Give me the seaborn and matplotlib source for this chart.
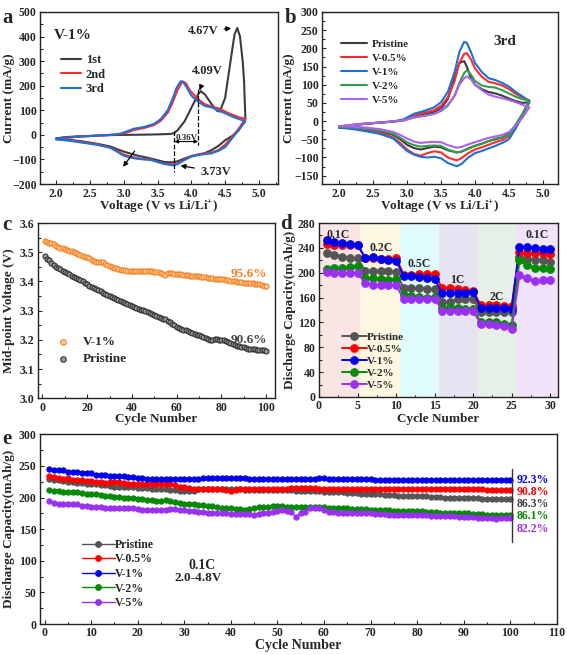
import numpy as np
import pandas as pd
import matplotlib
matplotlib.use("Agg")
import matplotlib.pyplot as plt
from matplotlib.ticker import AutoMinorLocator
import seaborn as sns

# ---------------- data ----------------
# (a) CV of V-1%, cycles 1-3: anodic + cathodic sweep
A1_VOLT = [2.0, 2.1, 2.3, 2.5, 2.8, 3.0, 3.3, 3.5, 3.7, 3.75, 3.8, 3.9, 4.0, 4.1, 4.14, 4.2, 4.3, 4.38,
           4.42, 4.5, 4.58, 4.64, 4.68, 4.72, 4.76, 4.78, 4.8,
           4.75, 4.7, 4.6, 4.5, 4.4, 4.3, 4.2, 4.1, 4.0, 3.9, 3.8, 3.73, 3.6, 3.5, 3.4, 3.3, 3.2, 3.1,
           3.0, 2.9, 2.8, 2.6, 2.4, 2.2, 2.0]
A1_CURR = [-15, -10, -6, -4, -1, 0, 1, 2, 4, 8, 20, 55, 110, 165, 178, 165, 125, 98,
           95, 150, 300, 410, 435, 400, 300, 220, 65,
           40, 18, -5, -22, -45, -62, -74, -80, -86, -96, -107, -112, -110, -103, -96, -90, -84, -76,
           -68, -58, -47, -36, -27, -20, -15]
A2_VOLT = [2.0, 2.3, 2.6, 2.8, 2.95, 3.05, 3.15, 3.3, 3.45, 3.55, 3.65, 3.72, 3.8, 3.87, 3.92, 3.98,
           4.05, 4.1, 4.2, 4.3, 4.4, 4.5, 4.6, 4.7, 4.8,
           4.75, 4.7, 4.6, 4.5, 4.4, 4.3, 4.2, 4.1, 4.0, 3.9, 3.8, 3.73, 3.6, 3.5, 3.4, 3.3, 3.2, 3.1,
           3.0, 2.9, 2.8, 2.6, 2.4, 2.2, 2.0]
A2_CURR = [-15, -8, -3, 0, 3, 10, 20, 28, 40, 58, 90, 130, 185, 218, 210, 180,
           160, 145, 125, 115, 108, 95, 82, 72, 65,
           45, 25, -10, -40, -62, -72, -75, -80, -87, -100, -115, -120, -117, -110, -100, -98, -95, -88,
           -80, -65, -52, -38, -30, -22, -18]
A3_VOLT = [2.0, 2.3, 2.6, 2.8, 2.95, 3.05, 3.15, 3.3, 3.45, 3.55, 3.65, 3.72, 3.78, 3.84, 3.88, 3.95,
           4.0, 4.1, 4.2, 4.3, 4.4, 4.5, 4.6, 4.7, 4.8,
           4.75, 4.7, 4.6, 4.5, 4.4, 4.3, 4.2, 4.1, 4.0, 3.9, 3.8, 3.73, 3.6, 3.5, 3.4, 3.3, 3.2, 3.1,
           3.0, 2.9, 2.8, 2.6, 2.4, 2.2, 2.0]
A3_CURR = [-15, -8, -3, 0, 5, 15, 25, 32, 45, 65, 100, 145, 190, 218, 215, 185,
           160, 135, 118, 112, 100, 88, 75, 65, 55,
           38, 20, -15, -50, -65, -75, -78, -82, -88, -102, -118, -124, -118, -110, -102, -100, -97, -92,
           -85, -68, -52, -40, -32, -24, -18]

# (b) 3rd cycle CV of all samples
B_VOLT_UP = [2.0, 2.3, 2.6, 2.8, 2.95, 3.1, 3.25, 3.4, 3.5, 3.6, 3.7, 3.77, 3.84, 3.88, 3.94, 4.0,
             4.1, 4.2, 4.3, 4.4, 4.5, 4.6, 4.7, 4.8]
B_VOLT_DOWN = [4.8, 4.7, 4.6, 4.5, 4.4, 4.3, 4.2, 4.1, 4.0, 3.9, 3.8, 3.73, 3.6, 3.5, 3.4, 3.3, 3.2,
               3.1, 3.0, 2.9, 2.8, 2.6, 2.4, 2.2, 2.0]
B_PRISTINE_UP = [-15, -8, -4, -1, 2, 12, 18, 25, 35, 60, 120, 160, 165, 150, 118, 100, 88, 80, 76, 70, 62, 55, 50, 52]
B_V05_UP = [-17, -9, -4, -1, 3, 15, 23, 30, 42, 65, 110, 160, 185, 187, 170, 145, 122, 108, 104, 98, 88, 75, 65, 57]
B_V1_UP = [-18, -9, -4, -1, 5, 20, 28, 38, 52, 80, 135, 190, 218, 215, 190, 160, 135, 118, 113, 105, 95, 80, 68, 55]
B_V2_UP = [-16, -9, -4, -1, 2, 10, 15, 20, 28, 42, 70, 105, 132, 140, 128, 110, 98, 94, 92, 85, 76, 67, 60, 57]
B_V5_UP = [-14, -8, -4, -1, 2, 10, 14, 20, 30, 45, 70, 100, 118, 123, 115, 100, 85, 73, 67, 63, 58, 52, 45, 38]
B_PRISTINE_DOWN = [52, 20, -10, -35, -45, -50, -55, -62, -68, -75, -84, -86, -80, -72, -70, -74, -78, -74, -65, -50, -38, -28, -22, -17, -15]
B_V05_DOWN = [57, 18, -15, -42, -52, -58, -65, -72, -78, -88, -102, -108, -100, -86, -83, -88, -95, -90, -78, -60, -45, -32, -25, -20, -17]
B_V1_DOWN = [55, 15, -20, -50, -60, -68, -75, -82, -88, -100, -118, -124, -115, -102, -98, -100, -98, -92, -82, -65, -48, -35, -28, -22, -18]
B_V2_DOWN = [57, 20, -12, -38, -45, -48, -55, -62, -68, -76, -84, -86, -78, -68, -67, -68, -70, -66, -58, -46, -35, -26, -21, -17, -16]
B_V5_DOWN = [38, 10, -12, -30, -38, -42, -46, -52, -58, -64, -71, -73, -66, -58, -57, -58, -60, -56, -48, -38, -30, -22, -18, -15, -14]

# (c) mid-point voltage, cycles 1-100
C_V1 = [3.540, 3.535, 3.532, 3.533, 3.528, 3.522, 3.518, 3.516, 3.515, 3.512,
        3.508, 3.505, 3.503, 3.500, 3.497, 3.494, 3.491, 3.488, 3.485, 3.482,
        3.480, 3.475, 3.470, 3.468, 3.467, 3.468, 3.465, 3.460, 3.456, 3.453,
        3.450, 3.447, 3.445, 3.442, 3.440, 3.439, 3.438, 3.437, 3.437, 3.436,
        3.436, 3.436, 3.436, 3.435, 3.435, 3.435, 3.435, 3.436, 3.435, 3.434,
        3.434, 3.432, 3.430, 3.425, 3.422, 3.428, 3.430, 3.428, 3.426, 3.425,
        3.424, 3.424, 3.423, 3.422, 3.421, 3.420, 3.419, 3.418, 3.417, 3.417,
        3.416, 3.415, 3.414, 3.413, 3.412, 3.411, 3.410, 3.409, 3.408, 3.408,
        3.407, 3.406, 3.404, 3.402, 3.400, 3.400, 3.399, 3.398, 3.397, 3.396,
        3.395, 3.395, 3.394, 3.393, 3.392, 3.391, 3.390, 3.388, 3.386, 3.384]
C_PRISTINE = [3.488, 3.478, 3.472, 3.462, 3.455, 3.450, 3.445, 3.441, 3.436, 3.432,
              3.428, 3.424, 3.420, 3.416, 3.412, 3.408, 3.404, 3.400, 3.395, 3.391,
              3.386, 3.382, 3.378, 3.374, 3.370, 3.366, 3.361, 3.357, 3.353, 3.349,
              3.346, 3.342, 3.339, 3.336, 3.333, 3.330, 3.326, 3.322, 3.319, 3.317,
              3.314, 3.310, 3.306, 3.303, 3.301, 3.298, 3.295, 3.291, 3.287, 3.284,
              3.281, 3.278, 3.276, 3.273, 3.270, 3.265, 3.260, 3.255, 3.250, 3.245,
              3.241, 3.238, 3.235, 3.232, 3.229, 3.226, 3.223, 3.220, 3.218, 3.216,
              3.213, 3.210, 3.207, 3.204, 3.201, 3.200, 3.202, 3.202, 3.201, 3.200,
              3.198, 3.195, 3.192, 3.189, 3.186, 3.183, 3.180, 3.178, 3.176, 3.174,
              3.172, 3.170, 3.169, 3.168, 3.167, 3.166, 3.166, 3.165, 3.164, 3.163]

# (d) rate capability, cycles 1-30
D_PRISTINE = [231, 228, 226, 223, 223, 203, 203, 202, 202, 201, 175, 175, 175, 174, 174,
              153, 153, 158, 158, 158, 136, 136, 136, 136, 136, 225, 222, 221, 221, 218]
D_V05 = [246, 245, 245, 245, 244, 224, 224, 222, 222, 224, 197, 197, 198, 198, 198,
         175, 175, 173, 172, 170, 148, 148, 148, 147, 147, 233, 232, 231, 231, 230]
D_V1 = [253, 250, 248, 247, 245, 224, 225, 222, 220, 219, 195, 194, 193, 192, 190,
        167, 167, 167, 168, 169, 143, 143, 143, 143, 142, 242, 241, 239, 238, 238]
D_V2 = [206, 207, 208, 210, 211, 191, 191, 190, 188, 190, 164, 162, 161, 160, 161,
        143, 144, 143, 142, 142, 120, 120, 120, 118, 116, 220, 212, 208, 208, 206]
D_V5 = [201, 200, 200, 199, 199, 183, 181, 180, 180, 180, 157, 157, 157, 157, 158,
        139, 139, 139, 139, 138, 118, 117, 116, 114, 110, 196, 191, 187, 188, 188]
D_RATES = ["0.1C", "0.2C", "0.5C", "1C", "2C", "0.1C"]
D_SPANS = [(0, 5.3), (5.3, 10.5), (10.5, 15.6), (15.6, 20.6), (20.6, 25.5), (25.5, 31)]

# (e) long cycling at 0.1C, cycles 1-100
E_PRISTINE = [229, 228, 227, 226, 225, 224, 223, 223, 222, 222,
              221, 220, 219, 218, 217, 217, 216, 216, 216, 215,
              215, 215, 214, 214, 213, 213, 212, 212, 211, 210,
              210, 211, 213, 214, 214, 213, 213, 213, 213, 213,
              213, 213, 212, 212, 212, 212, 212, 212, 212, 212,
              212, 212, 212, 211, 211, 211, 210, 210, 210, 209,
              209, 209, 208, 208, 207, 207, 207, 206, 206, 205,
              205, 205, 204, 204, 204, 203, 203, 203, 202, 202,
              202, 202, 201, 201, 201, 200, 200, 200, 200, 199,
              199, 199, 199, 198, 198, 198, 198, 197, 197, 197]
E_V05 = [234, 232, 231, 230, 231, 228, 228, 227, 226, 226,
         225, 224, 223, 224, 224, 224, 223, 222, 222, 221,
         221, 221, 221, 222, 222, 222, 221, 219, 217, 216,
         215, 214, 214, 213, 213, 213, 213, 213, 212, 211,
         212, 213, 213, 213, 214, 214, 214, 214, 214, 214,
         214, 214, 215, 215, 215, 215, 215, 215, 214, 214,
         214, 214, 214, 214, 214, 214, 214, 214, 214, 214,
         214, 214, 214, 213, 213, 213, 213, 213, 213, 213,
         213, 213, 213, 213, 213, 213, 213, 213, 213, 213,
         213, 213, 213, 213, 212, 212, 212, 212, 212, 212]
E_V1 = [245, 244, 244, 243, 240, 241, 240, 239, 239, 238,
        235, 236, 235, 234, 234, 234, 234, 233, 232, 231,
        231, 230, 230, 230, 229, 229, 229, 229, 229, 229,
        229, 230, 230, 231, 231, 231, 231, 231, 231, 231,
        231, 231, 231, 230, 230, 229, 229, 229, 229, 229,
        229, 229, 229, 229, 230, 230, 230, 230, 231, 231,
        230, 230, 229, 229, 229, 229, 229, 229, 229, 229,
        228, 228, 228, 228, 228, 228, 228, 228, 228, 228,
        228, 228, 228, 228, 228, 228, 227, 227, 227, 227,
        227, 227, 227, 227, 227, 227, 227, 227, 227, 227]
E_V2 = [212, 211, 210, 209, 208, 208, 208, 207, 206, 205,
        205, 204, 202, 202, 201, 201, 200, 200, 199, 197,
        197, 196, 196, 195, 195, 196, 195, 193, 191, 190,
        189, 189, 188, 188, 187, 186, 185, 184, 184, 183,
        182, 182, 181, 182, 184, 185, 185, 185, 186, 186,
        186, 185, 185, 185, 185, 185, 185, 185, 185, 185,
        184, 183, 183, 183, 183, 182, 182, 182, 182, 181,
        181, 180, 180, 180, 179, 179, 179, 179, 178, 178,
        178, 177, 177, 177, 176, 176, 176, 175, 175, 175,
        175, 174, 174, 174, 173, 173, 173, 173, 172, 172]
E_V5 = [194, 192, 190, 189, 189, 190, 189, 187, 186, 185,
        185, 185, 184, 183, 184, 184, 184, 183, 183, 182,
        181, 181, 181, 180, 180, 180, 182, 182, 181, 180,
        179, 178, 177, 177, 176, 176, 175, 175, 175, 174,
        174, 174, 174, 174, 173, 174, 175, 176, 177, 178,
        180, 178, 177, 169, 176, 177, 183, 184, 184, 181,
        177, 177, 176, 176, 176, 176, 175, 175, 175, 175,
        174, 174, 174, 173, 173, 173, 173, 173, 172, 172,
        172, 172, 171, 171, 171, 170, 170, 170, 169, 169,
        169, 169, 168, 168, 168, 168, 166, 167, 167, 167]
E_RETENTION = ["92.3%", "90.8%", "86.3%", "86.1%", "82.2%"]
E_RETENTION_Y = [227, 209, 190, 171, 150]

SAMPLES = ["Pristine", "V-0.5%", "V-1%", "V-2%", "V-5%"]

# ---------------- style ----------------
sns.set_style("ticks")
plt.rcParams['font.family'] = ['Liberation Serif', 'DejaVu Serif']
plt.rcParams['font.weight'] = 'bold'
plt.rcParams['axes.labelweight'] = 'bold'
plt.rcParams['axes.linewidth'] = 1.0
plt.rcParams['mathtext.fontset'] = 'custom'
plt.rcParams['mathtext.rm'] = 'Liberation Serif:bold'
plt.rcParams['mathtext.it'] = 'Liberation Serif:bold'
plt.rcParams['mathtext.bf'] = 'Liberation Serif:bold'

CV_COLORS = ["#3c3c3c", "#ff2a2a", "#1f6fd6", "#2e9e4a", "#b060f0"]
CYC_COLORS = ["#555555", "#ff0000", "#0000ee", "#058a05", "#9a30f0"]

TICK_FS = 8.5
LABEL_FS = 9.5


def style_axis(ax, ylab_x, xlab_y):
    ax.tick_params(axis='both', which='both', direction='in', top=False, right=False,
                   labelsize=TICK_FS, width=0.8, pad=2.5)
    ax.tick_params(which='major', length=3)
    ax.tick_params(which='minor', length=1.8)
    ax.xaxis.set_minor_locator(AutoMinorLocator(2))
    ax.yaxis.set_minor_locator(AutoMinorLocator(2))
    for lab in ax.get_xticklabels() + ax.get_yticklabels():
        lab.set_fontweight('bold')
    for s in ax.spines.values():
        s.set_linewidth(1.0)
        s.set_color('#222222')
    # label anchors sit on the text edge nearest the axes
    ax.yaxis.set_label_coords(ylab_x, 0.5)
    ax.xaxis.set_label_coords(0.5, xlab_y)


fig = plt.figure(figsize=(5.67, 6.55), dpi=100)
ax_a = fig.add_axes([0.0705, 0.719, 0.4195, 0.2627])
ax_b = fig.add_axes([0.568, 0.719, 0.416, 0.2627])
ax_c = fig.add_axes([0.067, 0.392, 0.418, 0.2675])
ax_d = fig.add_axes([0.5626, 0.394, 0.4214, 0.2655])
ax_e = fig.add_axes([0.0705, 0.0473, 0.9115, 0.2897])

# ---------------- (a) ----------------
for volt, curr, col, lab in [(A1_VOLT, A1_CURR, CV_COLORS[0], "1st"),
                             (A2_VOLT, A2_CURR, CV_COLORS[1], "2nd"),
                             (A3_VOLT, A3_CURR, CV_COLORS[2], "3rd")]:
    sns.lineplot(x=volt, y=curr, ax=ax_a, color=col, lw=1.5, sort=False,
                 estimator=None, label=lab)
ax_a.set_xlim(1.76, 5.28)
ax_a.set_ylim(-200, 500)
ax_a.set_xticks([2.0, 2.5, 3.0, 3.5, 4.0, 4.5, 5.0])
ax_a.set_xlabel("Voltage (V vs Li/Li$^{+}$)", fontsize=LABEL_FS)
ax_a.set_ylabel("Current (mA/g)", fontsize=LABEL_FS)
style_axis(ax_a, -0.106, -0.087)
ax_a.legend(loc='upper left', bbox_to_anchor=(0.04, 0.82), frameon=False,
            prop={'weight': 'bold', 'size': 9}, handlelength=1.6, labelspacing=0.2,
            handletextpad=0.4)
ax_a.text(0.06, 0.9, "V-1%", transform=ax_a.transAxes, fontsize=11, fontweight='bold',
          va='top')
ax_a.annotate("4.67V", xy=(4.63, 435), xytext=(4.17, 421), fontsize=9, fontweight='bold',
              ha='center', va='center',
              arrowprops=dict(arrowstyle='-|>', color='black', lw=0.9, mutation_scale=7))
ax_a.annotate("4.09V", xy=(4.12, 182), xytext=(4.24, 258), fontsize=9, fontweight='bold',
              ha='center', va='center',
              arrowprops=dict(arrowstyle='-|>', color='black', lw=0.9, mutation_scale=7,
                              shrinkA=6))
ax_a.annotate("3.73V", xy=(3.8, -123), xytext=(4.36, -150), fontsize=9, fontweight='bold',
              ha='center', va='center',
              arrowprops=dict(arrowstyle='-|>', color='black', lw=0.9, mutation_scale=7))
ax_a.plot([4.105, 4.105], [185, -40], ls='--', color='black', lw=0.9)
ax_a.plot([3.747, 3.747], [14, -152], ls='--', color='black', lw=0.9)
ax_a.annotate("", xy=(3.75, -27), xytext=(4.10, -27),
              arrowprops=dict(arrowstyle='<|-|>', color='black', lw=0.8, mutation_scale=5,
                              shrinkA=0, shrinkB=0))
ax_a.text(3.93, -13, "0.36V", fontsize=6.5, fontweight='bold', ha='center', va='center')
ax_a.annotate("", xy=(2.99, -130), xytext=(3.16, -66),
              arrowprops=dict(arrowstyle='-|>', color='black', lw=0.9, mutation_scale=7,
                              shrinkA=0, shrinkB=0))

# ---------------- (b) ----------------
b_up = [B_PRISTINE_UP, B_V05_UP, B_V1_UP, B_V2_UP, B_V5_UP]
b_down = [B_PRISTINE_DOWN, B_V05_DOWN, B_V1_DOWN, B_V2_DOWN, B_V5_DOWN]
for up, down, col, lab in zip(b_up, b_down, CV_COLORS, SAMPLES):
    sns.lineplot(x=B_VOLT_UP + B_VOLT_DOWN, y=up + down, ax=ax_b, color=col, lw=1.5,
                 sort=False, estimator=None, label=lab)
ax_b.set_xlim(1.75, 5.22)
ax_b.set_ylim(-173, 300)
ax_b.set_xticks([2.0, 2.5, 3.0, 3.5, 4.0, 4.5, 5.0])
ax_b.set_yticks(range(-150, 301, 50))
ax_b.set_xlabel("Voltage (V vs Li/Li$^{+}$)", fontsize=LABEL_FS)
ax_b.set_ylabel("Current (mA/g)", fontsize=LABEL_FS)
style_axis(ax_b, -0.115, -0.087)
ax_b.legend(loc='upper left', bbox_to_anchor=(0.04, 0.9), frameon=False,
            prop={'weight': 'bold', 'size': 8}, handlelength=2.3, labelspacing=0.38,
            handletextpad=0.4)
ax_b.text(4.44, 218, "3rd", fontsize=11, fontweight='bold', ha='center', va='center')

# ---------------- (c) ----------------
cycles100 = np.arange(1, 101)
sns.scatterplot(x=cycles100, y=C_V1, ax=ax_c, marker='o', s=13, color='#ffd0a0',
                edgecolor='#f57f20', linewidth=0.8, label="V-1%")
sns.scatterplot(x=cycles100, y=C_PRISTINE, ax=ax_c, marker='o', s=13, color='#9a9a9a',
                edgecolor='#303030', linewidth=0.8, label="Pristine")
ax_c.set_xlim(-2, 104)
ax_c.set_ylim(3.0, 3.6)
ax_c.set_xticks([0, 20, 40, 60, 80, 100])
ax_c.set_xlabel("Cycle Number", fontsize=LABEL_FS)
ax_c.set_ylabel("Mid-point Voltage (V)", fontsize=LABEL_FS)
style_axis(ax_c, -0.097, -0.086)
ax_c.legend(loc='lower left', bbox_to_anchor=(0.0, 0.12), frameon=False,
            prop={'weight': 'bold', 'size': 9.5}, handletextpad=0.5, labelspacing=0.35,
            markerscale=1.1)
ax_c.text(100.5, 3.425, "95.6%", color='#f57f20', fontsize=9.5, fontweight='bold', ha='right',
          va='center')
ax_c.text(100.5, 3.2, "90.6%", color='#444444', fontsize=9.5, fontweight='bold', ha='right',
          va='center')

# ---------------- (d) ----------------
span_colors = ["#fbe4e4", "#fdf6e0", "#e0fbfb", "#e6e4f2", "#e6f0e6", "#f0e2f8"]
for (x0, x1), c in zip(D_SPANS, span_colors):
    ax_d.axvspan(x0, x1, color=c, lw=0, zorder=0)
cycles30 = np.arange(1, 31)
for vals, col, lab in zip([D_PRISTINE, D_V05, D_V1, D_V2, D_V5], CYC_COLORS, SAMPLES):
    sns.lineplot(x=cycles30, y=vals, ax=ax_d, color=col, lw=1.4, marker='o', markersize=5.5,
                 markeredgecolor=col, markerfacecolor=col, label=lab)
rate_pos = [(2.5, 260), (8.0, 240), (13.0, 214), (18.0, 189), (23.0, 161), (28.3, 260)]
for txt, (xx, yy) in zip(D_RATES, rate_pos):
    ax_d.text(xx, yy, txt, fontsize=8.5, fontweight='bold', ha='center', va='center')
ax_d.set_xlim(0, 31)
ax_d.set_ylim(0, 280)
ax_d.set_xticks([0, 5, 10, 15, 20, 25, 30])
ax_d.set_yticks(range(0, 281, 40))
ax_d.set_xlabel("Cycle Number", fontsize=LABEL_FS)
ax_d.set_ylabel("Discharge Capacity(mAh/g)", fontsize=LABEL_FS)
style_axis(ax_d, -0.097, -0.09)
ax_d.legend(loc='lower left', bbox_to_anchor=(0.06, -0.01), frameon=False,
            prop={'weight': 'bold', 'size': 8}, handlelength=2.2, labelspacing=0.2,
            handletextpad=0.0, borderpad=0.3)

# ---------------- (e) ----------------
for vals, col, lab in zip([E_PRISTINE, E_V05, E_V1, E_V2, E_V5], CYC_COLORS, SAMPLES):
    sns.lineplot(x=cycles100, y=vals, ax=ax_e, color=col, lw=1.0, marker='o', markersize=3.8,
                 markeredgecolor=col, markerfacecolor=col, label=lab)
ax_e.plot([100.4, 100.4], [245, 130], color='#333333', lw=1.0)
ret_colors = [CYC_COLORS[2], CYC_COLORS[1], "#404040", CYC_COLORS[3], CYC_COLORS[4]]
for txt, yy, col in zip(E_RETENTION, E_RETENTION_Y, ret_colors):
    ax_e.text(101.4, yy, txt, color=col, fontsize=8.5, fontweight='bold', ha='left',
              va='center')
ax_e.text(33.8, 93, "0.1C", fontsize=10, fontweight='bold', ha='center', va='center')
ax_e.text(33.0, 73, "2.0-4.8V", fontsize=9.5, fontweight='bold', ha='center', va='center')
ax_e.set_xlim(-1, 110)
ax_e.set_ylim(0, 300)
ax_e.set_xticks(range(0, 111, 10))
ax_e.set_yticks(range(0, 301, 50))
ax_e.set_xlabel("Cycle Number", fontsize=10)
ax_e.set_ylabel("Discharge Capacity(mAh/g)", fontsize=LABEL_FS)
style_axis(ax_e, -0.048, -0.079)
ax_e.legend(loc='upper left', bbox_to_anchor=(0.06, 0.505), frameon=False,
            prop={'weight': 'bold', 'size': 8.5}, handlelength=2.8, labelspacing=0.22,
            handletextpad=0.0, markerscale=1.1)

# panel letters
for txt, (xx, yy) in zip("abcde", [(0.004, 0.988), (0.502, 0.988), (0.004, 0.672),
                                   (0.494, 0.674), (0.004, 0.345)]):
    fig.text(xx, yy, txt, fontsize=15, fontweight='bold', ha='left', va='top')

fig.savefig("out.png", dpi=100)
